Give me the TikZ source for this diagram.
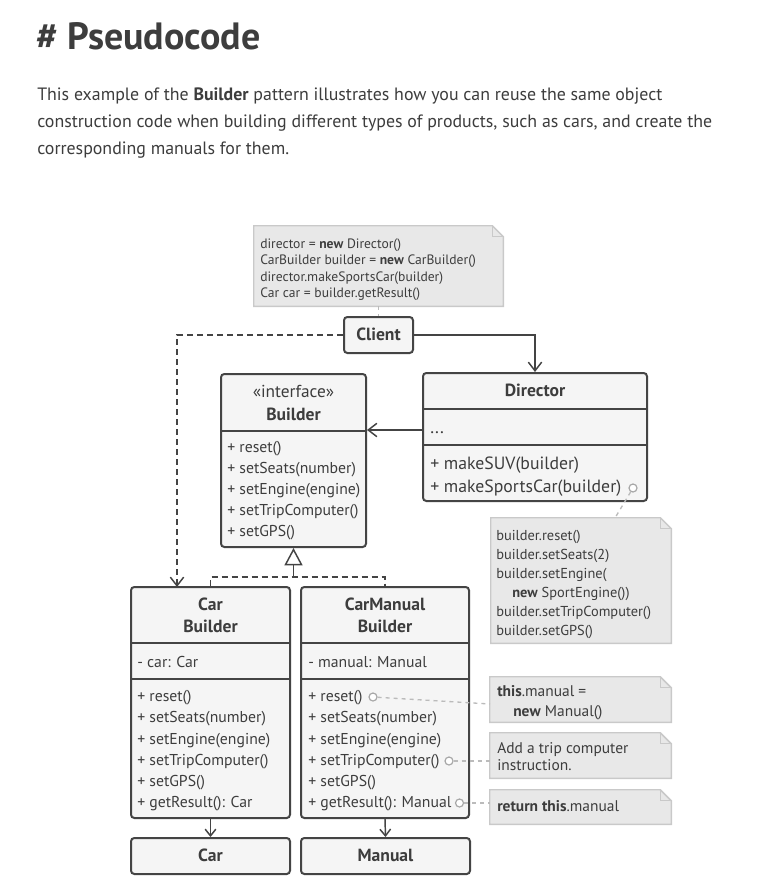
\documentclass[tikz,border=0pt]{standalone}
\usepackage{fontspec}
\setmainfont{PT Sans}
\usetikzlibrary{arrows.meta,fit,calc}
\definecolor{ink}{HTML}{444444}
\definecolor{txt}{HTML}{3d3d3d}
\definecolor{boxfill}{HTML}{F5F5F5}
\definecolor{notefill}{HTML}{E8E8E8}
\definecolor{notedraw}{HTML}{C9C9C9}
\definecolor{dotc}{HTML}{BBBBBB}
\newcommand\myfs[1]{\fontsize{#1}{#1}\selectfont}
\newcommand\notepath[1]{%
  \draw[notestyle] (#1.south west) -- (#1.north west) -- ([xshift=-8.25pt]#1.north east)
    -- ([yshift=-8.25pt]#1.north east) -- (#1.south east) -- cycle;
  \draw[notestyle,fill=none] ([xshift=-8.25pt]#1.north east) -- ([xshift=-8.25pt,yshift=-8.25pt]#1.north east)
    -- ([yshift=-8.25pt]#1.north east);}
\tikzset{
  cls/.style={draw=ink, fill=boxfill, line width=1.5pt, rounded corners=2.5pt, inner sep=0pt},
  noteframe/.style={inner sep=0pt},
  notestyle/.style={draw=notedraw, fill=notefill, line width=1.1pt},
  divider/.style={draw=ink, line width=1.5pt},
  tx/.style={anchor=west, inner sep=0pt, text height=0.95em, text depth=0.2em, text=txt},
  tc/.style={anchor=center, inner sep=0pt, text height=0.95em, text depth=0.2em, text=txt},
  meth/.style={tx, font=\myfs{11.8pt}},
  dmeth/.style={tx, font=\myfs{13.3pt}},
  title/.style={tc, font=\bfseries\myfs{13.2pt}},
  ntx/.style={tx, font=\myfs{10.2pt}},
  ntxb/.style={tx, font=\myfs{10.8pt}},
  ntxc/.style={tx, font=\myfs{11.6pt}},
  con/.style={draw=ink, line width=1.1pt},
  dashcon/.style={con, dash pattern=on 4.5pt off 3pt},
  dotcon/.style={draw=dotc, line width=1pt, dash pattern=on 3pt off 3pt},
  circ/.style={circle, draw=dotc!90!black, fill=white, line width=0.9pt, minimum size=6pt, inner sep=0pt},
  barb/.style={-{Straight Barb[length=6.5pt,width=10pt,line width=1.1pt]}},
  sbarb/.style={-{Straight Barb[length=5pt,width=8pt,line width=1.1pt]}},
}
\begin{document}
\begin{tikzpicture}[x=0.75pt,y=-0.75pt]
\useasboundingbox[fill=white] (0,0) rectangle (770,891);

% heading and paragraph
\node[anchor=base west, inner sep=0pt, text=txt, font=\bfseries\myfs{28.5pt}] (head) at (36,50) {\# Pseudocode};
\node[anchor=base west, inner sep=0pt, text=txt, font=\myfs{13.4pt}] (p1) at (37,101) {This example of the \textbf{Builder} pattern illustrates how you can reuse the same object};
\node[anchor=base west, inner sep=0pt, text=txt, font=\myfs{13.4pt}] (p2) at (37,128) {construction code when building different types of products, such as cars, and create the};
\node[anchor=base west, inner sep=0pt, text=txt, font=\myfs{13.4pt}] (p3) at (37,155) {corresponding manuals for them.};

% top note
\node[noteframe, fit={(254,226)(503,306)}] (n1) {};
\notepath{n1}
\node[ntx] (n1a) at (260,243) {director = \textbf{new} Director()};
\node[ntx] (n1b) at (260,259.5) {CarBuilder builder = \textbf{new} CarBuilder()};
\node[ntx] (n1c) at (260,276) {director.makeSportsCar(builder)};
\node[ntx] (n1d) at (260,292.5) {Car car = builder.getResult()};

% Client
\node[cls, fit={(344,317)(413,353)}] (client) {};
\node[title] (clientT) at (client.center) {Client};

% Builder interface
\node[cls, fit={(221,374)(366,547)}] (builder) {};
\draw[divider] (221,431) -- (366,431);
\node[tc, font=\myfs{13pt}] (bi) at (293.5,392) {«interface»};
\node[title] (bT) at (293.5,415) {Builder};
\node[meth] (b1) at (227,447) {+ reset()};
\node[meth] (b2) at (227,468) {+ setSeats(number)};
\node[meth] (b3) at (227,489) {+ setEngine(engine)};
\node[meth] (b4) at (227,510) {+ setTripComputer()};
\node[meth] (b5) at (227,531) {+ setGPS()};

% Director
\node[cls, fit={(423,373)(647,501)}] (director) {};
\draw[divider] (423,409) -- (647,409);
\draw[divider] (423,445) -- (647,445);
\node[title] (dT) at (535,391) {Director};
\node[dmeth] (d0) at (430,428) {...};
\node[dmeth] (d1) at (430,464) {+ makeSUV(builder)};
\node[dmeth] (d2) at (430,487) {+ makeSportsCar(builder)};
\node[circ] (c0) at (633,488) {};

% note 2
\node[noteframe, fit={(491,518)(671,643)}] (n2) {};
\notepath{n2}
\node[ntxb] (n2a) at (496,535) {builder.reset()};
\node[ntxb] (n2b) at (496,554) {builder.setSeats(2)};
\node[ntxb] (n2c) at (496,573) {builder.setEngine(};
\node[ntxb] (n2d) at (512,592) {\textbf{new} SportEngine())};
\node[ntxb] (n2e) at (496,611) {builder.setTripComputer()};
\node[ntxb] (n2f) at (496,630) {builder.setGPS()};

% Car Builder
\node[cls, fit={(131,587)(290,818)}] (carb) {};
\draw[divider] (131,643) -- (290,643);
\draw[divider] (131,679) -- (290,679);
\node[title] (cbT1) at (210.5,605) {Car};
\node[title] (cbT2) at (210.5,627) {Builder};
\node[meth] (cbf) at (137,662) {- car: Car};
\node[meth] (cb1) at (137,696) {+ reset()};
\node[meth] (cb2) at (137,717) {+ setSeats(number)};
\node[meth] (cb3) at (137,739) {+ setEngine(engine)};
\node[meth] (cb4) at (137,760) {+ setTripComputer()};
\node[meth] (cb5) at (137,781) {+ setGPS()};
\node[meth] (cb6) at (137,802) {+ getResult(): Car};

% CarManual Builder
\node[cls, fit={(301,587)(469,818)}] (cmb) {};
\draw[divider] (301,643) -- (469,643);
\draw[divider] (301,679) -- (469,679);
\node[title] (cmT1) at (385,605) {CarManual};
\node[title] (cmT2) at (385,627) {Builder};
\node[meth] (cmf) at (308,662) {- manual: Manual};
\node[meth] (cm1) at (308,696) {+ reset()};
\node[meth] (cm2) at (308,717) {+ setSeats(number)};
\node[meth] (cm3) at (308,739) {+ setEngine(engine)};
\node[meth] (cm4) at (308,760) {+ setTripComputer()};
\node[meth] (cm5) at (308,781) {+ setGPS()};
\node[meth] (cm6) at (308,802) {+ getResult(): Manual};
\node[circ] (c1) at (373,697) {};
\node[circ] (c2) at (449,761) {};
\node[circ] (c3) at (459.5,803) {};

% products
\node[cls, fit={(131,838)(290,874)}] (car) {};
\node[title] (carT) at (car.center) {Car};
\node[cls, fit={(301,838)(470,874)}] (manual) {};
\node[title] (manT) at (manual.center) {Manual};

% right notes
\node[noteframe, fit={(490,677)(671,722)}] (n3) {};
\notepath{n3}
\node[ntxc] (n3a) at (497,691) {\textbf{this}.manual =};
\node[ntxc] (n3b) at (513,711) {\textbf{new} Manual()};
\node[noteframe, fit={(490,733)(671,778)}] (n4) {};
\notepath{n4}
\node[ntxc] (n4a) at (497,748) {Add a trip computer};
\node[ntxc] (n4b) at (497,765) {instruction.};
\node[noteframe, fit={(490,790)(671,824)}] (n5) {};
\notepath{n5}
\node[ntxc] (n5a) at (497,806) {\textbf{return this}.manual};

% connectors
\coordinate (cbIn) at (177,587);
\draw[dashcon, barb] (client.west) -| (cbIn);
\draw[con, barb] (client.east) -| (director.north);
\coordinate (dirOut) at (423,430);
\draw[con, barb] (dirOut) -- (dirOut -| builder.east);
\coordinate (inh) at (293.5,577);
\draw[dashcon] (carb.north) |- (inh) -| (cmb.north);
\draw[con, -{Triangle[open, length=13pt, width=13.5pt, fill=white, line width=1.1pt]}] (inh) -- (inh |- builder.south);
\draw[con, sbarb] (carb.south) -- (car.north);
\draw[con, sbarb] (cmb.south) -- (manual.north);

% note links
\draw[dotcon] (n1.south) -- (client.north);
\coordinate (n2in) at (615,518);
\draw[dotcon] (c0) -- (n2in);
\coordinate (n3in) at (490,704);
\draw[dotcon] (c1) -- (n3in);
\draw[dotcon] (c2) -- (c2 -| n4.west);
\draw[dotcon] (c3) -- (c3 -| n5.west);
\end{tikzpicture}
\end{document}
